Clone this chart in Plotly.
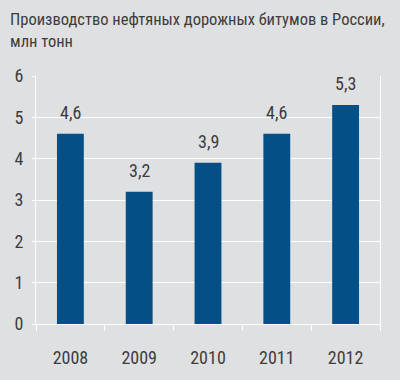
import plotly.graph_objects as go

years = ["2008", "2009", "2010", "2011", "2012"]
values = [4.6, 3.2, 3.9, 4.6, 5.3]
labels = ["4,6", "3,2", "3,9", "4,6", "5,3"]
y_ticks = [0, 1, 2, 3, 4, 5, 6]
title_text = "Производство нефтяных дорожных битумов в России,<br>млн тонн"

FONT = "Liberation Sans Narrow, Arial Narrow, Roboto Condensed, DejaVu Sans Condensed, sans-serif"
BG = "#dfe0e2"
TXT = "#3d3d3d"

fig = go.Figure()
fig.add_trace(go.Bar(x=years, y=values, marker=dict(color="#034f86", line=dict(width=0)),
                     width=0.39, hoverinfo="skip"))

for i, (v, t) in enumerate(zip(values, labels)):
    fig.add_annotation(x=i, y=v, text=t, showarrow=False, yanchor="bottom", yshift=9,
                       font=dict(family=FONT, size=18, color=TXT))

fig.update_layout(
    width=400, height=380,
    paper_bgcolor=BG, plot_bgcolor=BG,
    margin=dict(l=36, r=20, t=76, b=52),
    showlegend=False,
    title=dict(text=title_text, xref="container", yref="container", x=0.025, xanchor="left",
               y=0.934, yanchor="top", font=dict(family=FONT, size=16.5, color=TXT)),
    font=dict(family=FONT, color=TXT),
)
fig.update_yaxes(range=[0, 6], tickvals=y_ticks, showgrid=True, gridcolor="white", gridwidth=1,
                 showline=True, linecolor="white", linewidth=1, mirror=True,
                 ticks="outside", ticklen=3, tickcolor="white", tickwidth=1,
                 tickfont=dict(family=FONT, size=18, color=TXT), zeroline=False,
                 ticklabelstandoff=5, fixedrange=True)
fig.update_xaxes(type="category", range=[-0.5, len(years) - 0.5], showline=True, linecolor="white",
                 linewidth=1, tickson="boundaries",
                 ticks="outside", ticklen=6, tickcolor="white", tickwidth=1,
                 tickfont=dict(family=FONT, size=18, color=TXT), showgrid=False,
                 ticklabelstandoff=17, fixedrange=True)

fig.write_html("out.html", config={"displayModeBar": False},
               post_script="document.body.style.margin='0';document.body.style.background='#dfe0e2';")
